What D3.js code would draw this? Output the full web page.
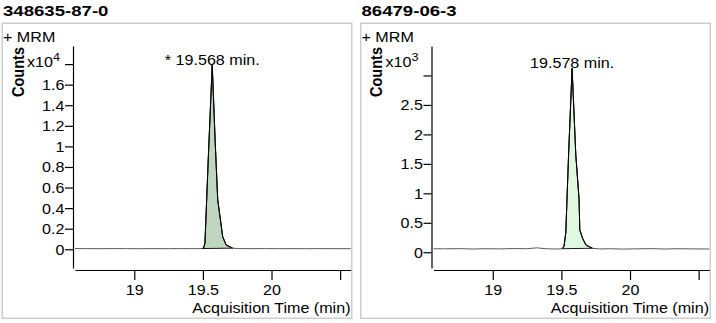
<!DOCTYPE html>
<html>
<head>
<meta charset="utf-8">
<script src="https://cdn.jsdelivr.net/npm/d3@7"></script>
<style>
  body { margin: 0; background: #fff; }
  text { font-family: "Liberation Sans", Arial, sans-serif; fill: #000; }
</style>
</head>
<body>
<svg id="chart" width="716" height="323"></svg>
<script>
// ---- data -------------------------------------------------------------
const titles = ["348635-87-0", "86479-06-3"];
const scanLabel = "+ MRM";
const peakLabels = ["* 19.568 min.", "19.578 min."];
const exponents = [4, 3];
const xTitle = "Acquisition Time (min)";
const yTitle = "Counts";

const xTicks = [19, 19.5, 20, 20.5];
const xTickLabels = ["19", "19.5", "20", ""];

const yTicksA = [0, 0.2, 0.4, 0.6, 0.8, 1, 1.2, 1.4, 1.6, 1.8];
const yTickLabelsA = ["0", "0.2", "0.4", "0.6", "0.8", "1", "1.2", "1.4", "1.6", ""];
const yTicksB = [0, 0.5, 1, 1.5, 2, 2.5, 3];
const yTickLabelsB = ["0", "0.5", "1", "1.5", "2", "2.5", ""];

// chromatogram 1 (counts)
const timeA = [18.568, 18.65, 18.75, 18.85, 18.95, 19.05, 19.15, 19.25, 19.35, 19.42, 19.47,
               19.495, 19.505, 19.515, 19.541, 19.568, 19.59, 19.608, 19.628, 19.644, 19.669, 19.716,
               19.76, 19.85, 19.95, 20.05, 20.15, 20.25, 20.35, 20.45, 20.577];
const countsA = [70, 62, 58, 66, 60, 55, 63, 58, 66, 60, 64,
                 70, 130, 600, 9400, 17900, 10300, 4800, 2850, 1230, 420, 110,
                 72, 60, 66, 58, 62, 55, 64, 58, 60];
const peakRangeA = [19.495, 19.716];

// chromatogram 2 (counts)
const timeB = [18.568, 18.65, 18.75, 18.85, 18.95, 19.05, 19.15, 19.25, 19.32, 19.40, 19.47,
               19.505, 19.519, 19.532, 19.553, 19.578, 19.605, 19.629, 19.634, 19.654, 19.678, 19.726,
               19.78, 19.85, 19.95, 20.05, 20.15, 20.25, 20.35, 20.45, 20.577];
const countsB = [60, 58, 62, 55, 60, 57, 63, 60, 75, 58, 55,
                 60, 100, 330, 1700, 3120, 1650, 890, 380, 240, 124, 68,
                 56, 60, 54, 58, 62, 55, 60, 57, 55];
const peakRangeB = [19.505, 19.726];

const timeDomain = [18.568, 20.577];
const yDomainA = [-0.182, 1.976];   // x10^4
const yDomainB = [-0.267, 3.5];     // x10^3

const fills = ["#bfd7bf", "#e0f7e0"];

// ---- layout -------------------------------------------------------------
const SX = 1.15;   // horizontal text stretch
const svg = d3.select("#chart");

function stretchedText(g, x, y, str, opts = {}) {
  const sx = opts.sx || SX;
  const t = g.append("text")
    .attr("transform", `translate(${x},${y}) scale(${sx},1)` + (opts.rotate ? ` rotate(${opts.rotate})` : ""))
    .attr("text-anchor", opts.anchor || "start")
    .style("font-size", (opts.size || 14) + "px")
    .style("font-weight", opts.weight || "normal")
    .text(str);
  return t;
}

const panels = [
  { ox: 0, time: timeA, counts: countsA, scale: 1e4, yDomain: yDomainA, yTicks: yTicksA,
    yLabels: yTickLabelsA, peak: peakRangeA },
  { ox: 358.5, time: timeB, counts: countsB, scale: 1e3, yDomain: yDomainB, yTicks: yTicksB,
    yLabels: yTickLabelsB, peak: peakRangeB }
];

panels.forEach((p, i) => {
  const g = svg.append("g").attr("transform", `translate(${p.ox},0)`);

  // frame
  g.append("rect")
    .attr("x", 2.25).attr("y", 23.25).attr("width", 349.5).attr("height", 295)
    .attr("fill", "none").attr("stroke", "#cdcdcd").attr("stroke-width", 1.5);

  stretchedText(g, 3, 16, titles[i], { size: 15.5, weight: "bold", sx: 1.2 });
  stretchedText(g, 3, 41.5, scanLabel, { size: 14 });

  const axisX = 73;
  const x = d3.scaleLinear().domain(timeDomain).range([75, 350.7]);
  const y = d3.scaleLinear().domain(p.yDomain).range([268, 46]);

  const data = p.time.map((t, k) => ({ t, v: p.counts[k] / p.scale }));

  // y axis
  const yAxis = g.append("g").attr("transform", `translate(${axisX},0)`)
    .call(d3.axisLeft(y).tickValues(p.yTicks).tickSize(8).tickSizeOuter(0)
      .tickFormat((d, k) => p.yLabels[k]));
  yAxis.select(".domain").attr("stroke-width", 1.2);
  yAxis.selectAll(".tick line").attr("stroke-width", 1.2);
  yAxis.selectAll(".tick text")
    .attr("x", null).attr("dy", "0.35em")
    .attr("transform", `translate(-8.5,0) scale(${SX},1)`)
    .style("font-size", "14px").style("font-family", null);

  // x axis
  const xAxis = g.append("g").attr("transform", `translate(0,270)`)
    .call(d3.axisBottom(x).tickValues(xTicks).tickSize(10).tickSizeOuter(0).tickPadding(5)
      .tickFormat((d, k) => xTickLabels[k]));
  xAxis.select(".domain").attr("stroke-width", 1.2);
  xAxis.selectAll(".tick line").attr("stroke-width", 1.2);
  xAxis.selectAll(".tick text")
    .attr("transform", `scale(${SX},1)`)
    .style("font-size", "14px").style("font-family", null);

  // axis titles
  stretchedText(g, 350.5, 313, xTitle, { anchor: "end", size: 14 });
  stretchedText(g, 23.5, 72, yTitle, { anchor: "middle", size: 14.5, weight: "bold", rotate: -90 });

  // exponent label
  const ex = g.append("text")
    .attr("transform", `translate(${axisX - 13},66.5) scale(${SX},1)`)
    .attr("text-anchor", "end")
    .style("font-size", "14px");
  ex.append("tspan").text("x10");
  ex.append("tspan").attr("dy", -6).style("font-size", "11px").text(exponents[i]);

  // integrated peak area
  const inPeak = data.filter(d => d.t >= p.peak[0] && d.t <= p.peak[1]);
  g.append("path")
    .attr("d", d3.line().x(d => x(d.t)).y(d => y(d.v))(inPeak) + "Z")
    .attr("fill", fills[i])
    .attr("stroke", "#000").attr("stroke-width", 0.9).attr("stroke-linejoin", "round");

  // full trace
  const line = d3.line().x(d => x(d.t)).y(d => y(d.v));
  g.append("path").datum(data).attr("d", line)
    .attr("fill", "none").attr("stroke", "#5a5a5a").attr("stroke-width", 1);
  g.append("path").datum(inPeak).attr("d", line)
    .attr("fill", "none").attr("stroke", "#000").attr("stroke-width", 1);

  // apex label
  const apex = data.reduce((a, b) => (b.v > a.v ? b : a));
  stretchedText(g, x(apex.t), y(apex.v), peakLabels[i], { anchor: "middle", size: 14 });
});
</script>
</body>
</html>
